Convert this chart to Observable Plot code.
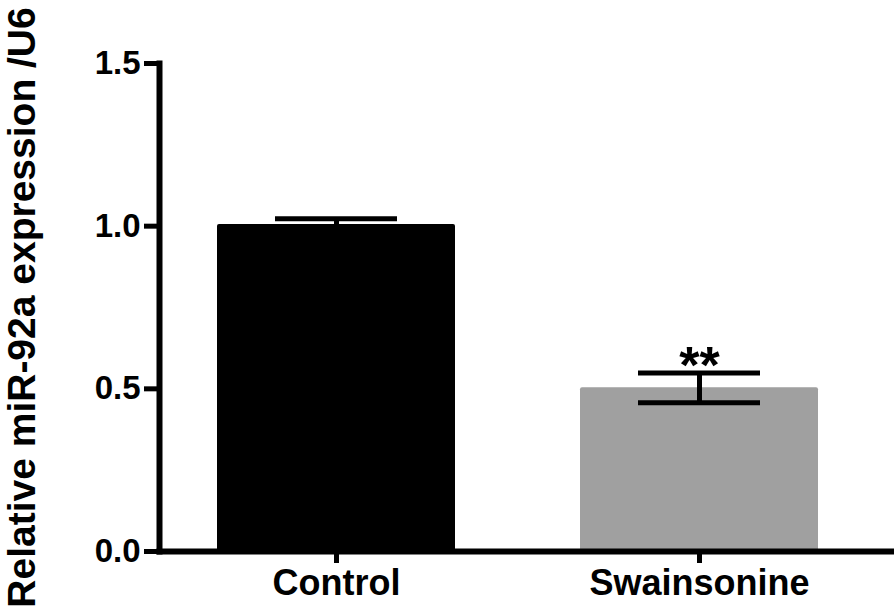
<!DOCTYPE html>
<html>
<head>
<meta charset="utf-8">
<script src="https://cdn.jsdelivr.net/npm/d3@7"></script>
<script src="https://cdn.jsdelivr.net/npm/@observablehq/plot@0.6"></script>
<style>
  html, body { margin: 0; padding: 0; background: #ffffff; }
  #chart svg { display: block; }
</style>
</head>
<body>
<div id="chart"></div>
<script>
const categories = ["Control", "Swainsonine"];
const means = [1.005, 0.503];
const errors = [0.018, 0.046];
const barColors = ["#000000", "#a0a0a0"];
const yTicks = [0, 0.5, 1.0, 1.5];
const yLabel = "Relative miR-92a expression /U6";
const significance = ["", "**"];

const data = categories.map((c, i) => ({
  cat: c, mean: means[i], err: errors[i], color: barColors[i], sig: significance[i]
}));

const font = "'Liberation Sans', Arial, Helvetica, sans-serif";

const chart = Plot.plot({
  width: 894,
  height: 613,
  marginLeft: 159,
  marginRight: 3,
  marginTop: 63,
  marginBottom: 62,
  style: { fontFamily: font, background: "#ffffff", color: "#000" },
  x: { type: "band", domain: categories, paddingInner: 0.344, paddingOuter: 0.18, align: 0.443, label: null },
  y: { domain: [0, 1.5], label: null },
  marks: [
    Plot.barY(data, { x: "cat", y: "mean", fill: "color", rx: 2 }),
    Plot.ruleX(data, { x: "cat", y1: d => d.mean - d.err, y2: d => d.mean + d.err, stroke: "#000", strokeWidth: 5 }),
    Plot.tickY(data, { x: "cat", y: d => d.mean + d.err, stroke: "#000", strokeWidth: 5, insetLeft: 58, insetRight: 58 }),
    Plot.tickY(data, { x: "cat", y: d => d.mean - d.err, stroke: "#000", strokeWidth: 5, insetLeft: 58, insetRight: 58 }),
    Plot.text(data, { x: "cat", y: d => d.mean + d.err, text: "sig", fontSize: 52, fontWeight: "bold", lineAnchor: "middle", dy: -7, fill: "#000" }),
    Plot.frame({ anchor: "left", stroke: "#000", strokeWidth: 6 }),
    Plot.frame({ anchor: "bottom", stroke: "#000", strokeWidth: 6 }),
    Plot.axisY({ ticks: yTicks, tickFormat: d3.format(".1f"), tickSize: 15, tickPadding: 4, strokeWidth: 5, fontSize: 33, fontWeight: "bold", label: null, color: "#000" }),
    Plot.axisX({ tickSize: 12, tickPadding: 6, strokeWidth: 5, fontSize: 36, fontWeight: "bold", label: null, color: "#000" }),
    Plot.text([yLabel], { frameAnchor: "left", dx: -137, rotate: -90, fontSize: 39, fontWeight: "bold", text: d => d, fill: "#000", lineAnchor: "middle", textAnchor: "middle" })
  ]
});
document.getElementById("chart").appendChild(chart);
</script>
</body>
</html>
